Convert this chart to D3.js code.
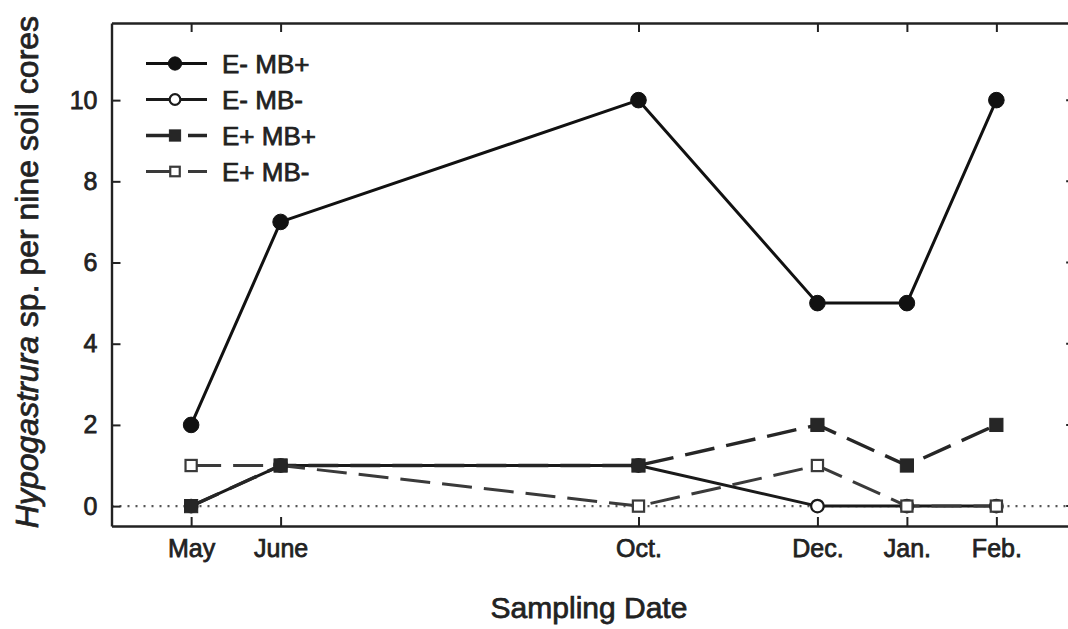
<!DOCTYPE html>
<html>
<head>
<meta charset="utf-8">
<script src="https://cdn.jsdelivr.net/npm/d3@7"></script>
<style>
  html, body { margin: 0; padding: 0; background: #fff; overflow: hidden; }
  svg { display: block; }
  text { font-family: "Liberation Sans", Arial, sans-serif; fill: #222; }
</style>
</head>
<body>
<svg id="chart" width="1068" height="629"></svg>
<script>
// ---- data ----
const monthLabels = ["May", "June", "Oct.", "Dec.", "Jan.", "Feb."];
const monthIndex = [0, 1, 5, 7, 8, 9];           // months since May
const yTicks = [0, 2, 4, 6, 8, 10];
const seriesNames = ["E- MB+", "E- MB-", "E+ MB+", "E+ MB-"];
const eMinusMBPlus  = [2, 7, 10, 5, 5, 10];
const eMinusMBMinus = [0, 1, 1, 0, 0, 0];
const ePlusMBPlus   = [0, 1, 1, 2, 1, 2];
const ePlusMBMinus  = [1, 1, 0, 1, 0, 0];

(function () {
// ---- styles ----
const styles = [
  { name: seriesNames[0], values: eMinusMBPlus,  marker: "circle", filled: true,  dash: null,    color: "#111", width: 3 },
  { name: seriesNames[1], values: eMinusMBMinus, marker: "circle", filled: false, dash: null,    color: "#1a1a1a", width: 3 },
  { name: seriesNames[2], values: ePlusMBPlus,   marker: "square", filled: true,  dash: "30,12", color: "#262626", width: 3.4 },
  { name: seriesNames[3], values: ePlusMBMinus,  marker: "square", filled: false, dash: "30,12", color: "#3a3a3a", width: 3 }
];

const svg = d3.select("#chart");
const pLeft = 111.5, pRight = 1076, pTop = 23, pBottom = 526;

const x = d3.scaleLinear().domain([-0.89, 9.89]).range([pLeft, pRight]);
const y = d3.scaleLinear().domain([-0.49, 11.9]).range([pBottom, pTop]);

const axisColor = "#222";
const textStroke = 0.75;

// zero dotted reference line
svg.append("line")
  .attr("x1", x(-0.89)).attr("x2", x(9.89))
  .attr("y1", y(0)).attr("y2", y(0))
  .attr("stroke", "#555").attr("stroke-width", 2.2)
  .attr("stroke-dasharray", "2,6");

// axes
const gLeft = svg.append("g").attr("transform", `translate(${pLeft},0)`)
  .call(d3.axisLeft(y).tickValues(yTicks).tickSizeInner(-9).tickSizeOuter(0).tickPadding(14));
const gBottom = svg.append("g").attr("transform", `translate(0,${pBottom})`)
  .call(d3.axisBottom(x).tickValues(monthIndex).tickFormat((d, i) => monthLabels[i])
        .tickSizeInner(-9).tickSizeOuter(0).tickPadding(13));
const gTop = svg.append("g").attr("transform", `translate(0,${pTop})`)
  .call(d3.axisTop(x).tickValues(monthIndex).tickFormat("").tickSizeInner(-9).tickSizeOuter(0));

// right-side inward ticks (frame edge lies just beyond the visible area)
const gRight = svg.append("g");
gRight.selectAll("line").data(yTicks).join("line")
  .attr("x1", x(9.78)).attr("x2", x(9.89))
  .attr("y1", d => y(d)).attr("y2", d => y(d));

[gLeft, gBottom, gTop].forEach(g => {
  g.select(".domain").attr("stroke", axisColor).attr("stroke-width", 2.4);
});
[gLeft, gBottom, gTop, gRight].forEach(g => {
  g.selectAll(".tick line").attr("stroke", axisColor).attr("stroke-width", 2);
  g.selectAll(".tick text")
    .style("font-family", '"Liberation Sans", Arial, sans-serif')
    .style("font-size", "25px").attr("fill", "#222")
    .attr("stroke", "#222").attr("stroke-width", textStroke);
});
gRight.selectAll("line").attr("stroke", axisColor).attr("stroke-width", 2);

// lines
const line = d3.line().x((d, i) => x(monthIndex[i])).y(d => y(d));
styles.forEach(s => {
  svg.append("path").datum(s.values)
    .attr("d", line)
    .attr("fill", "none")
    .attr("stroke", s.color)
    .attr("stroke-width", s.width)
    .attr("stroke-dasharray", s.dash)
    .attr("stroke-linejoin", "round");
});

// markers
function drawMarker(g, s, cx, cy, scale) {
  const k = scale || 1;
  if (s.marker === "circle") {
    g.append("circle").attr("cx", cx).attr("cy", cy).attr("r", (s.filled ? 7.8 : 6.3) * k)
      .attr("fill", s.filled ? s.color : "#fff")
      .attr("stroke", s.color).attr("stroke-width", s.filled ? 1 : 2.2);
  } else {
    const h = (s.filled ? 6.6 : 5.6) * k;
    g.append("rect").attr("x", cx - h).attr("y", cy - h)
      .attr("width", 2 * h).attr("height", 2 * h)
      .attr("fill", s.filled ? s.color : "#fff")
      .attr("stroke", s.color).attr("stroke-width", s.filled ? 1 : 2.2);
  }
}
const markerOrder = [1, 3, 2, 0];
const gm = svg.append("g");
markerOrder.forEach(k => {
  const s = styles[k];
  s.values.forEach((v, i) => drawMarker(gm, s, x(monthIndex[i]), y(v)));
});

// legend
const legendX0 = 146, legendX1 = 207, legendMarkX = 175, legendTextX = 222;
const legendY0 = 63.5, legendStep = 36;
styles.forEach((s, i) => {
  const ly = legendY0 + i * legendStep;
  const g = svg.append("g");
  g.append("line").attr("x1", legendX0).attr("x2", legendX1).attr("y1", ly).attr("y2", ly)
    .attr("stroke", s.color).attr("stroke-width", s.width)
    .attr("stroke-dasharray", s.dash);
  drawMarker(g, s, legendMarkX, ly, 0.85);
  g.append("text").attr("x", legendTextX).attr("y", ly).attr("dy", "0.36em")
    .style("font-size", "26px").attr("stroke", "#222").attr("stroke-width", textStroke)
    .text(s.name);
});

// axis titles
svg.append("text")
  .attr("x", 589).attr("y", 618)
  .attr("text-anchor", "middle")
  .style("font-size", "30px").attr("stroke", "#222").attr("stroke-width", textStroke)
  .text("Sampling Date");

const yt = svg.append("text")
  .attr("transform", "translate(38,272) rotate(-90)")
  .attr("text-anchor", "middle")
  .style("font-size", "32px").attr("stroke", "#222").attr("stroke-width", textStroke);
yt.append("tspan").style("font-style", "italic").text("Hypogastrura");
yt.append("tspan").text(" sp. per nine soil cores");
})();
</script>
</body>
</html>
